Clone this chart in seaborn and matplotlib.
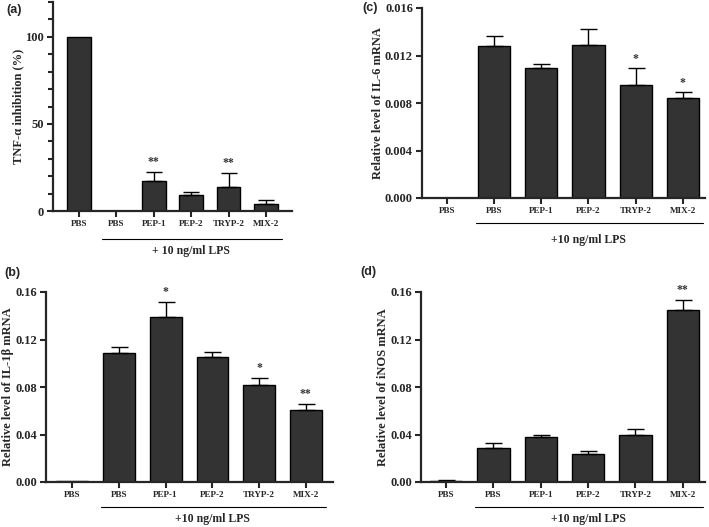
import numpy as np
import pandas as pd
import seaborn as sns
import matplotlib.pyplot as plt
import matplotlib.transforms as mtransforms

# Data
groups = ["PBS", "PBS+LPS", "PEP-1", "PEP-2", "TRYP-2", "MIX-2"]
tick_labels = ["PBS", "PBS", "PEP-1", "PEP-2", "TRYP-2", "MIX-2"]

tnf_mean = [100, 0, 17.5, 9.4, 13.8, 3.8]
tnf_err = [0, 0, 4.8, 1.7, 8.1, 2.3]
tnf_stars = ["", "", "**", "", "**", ""]

il1b_mean = [0.0008, 0.109, 0.139, 0.105, 0.082, 0.061]
il1b_err = [0, 0.005, 0.013, 0.0042, 0.0059, 0.0045]
il1b_stars = ["", "", "*", "", "*", "**"]

il6_mean = [0, 0.01277, 0.01091, 0.01285, 0.00953, 0.00846]
il6_err = [0, 0.00084, 0.00037, 0.00135, 0.00138, 0.00043]
il6_stars = ["", "", "", "", "*", "*"]

inos_mean = [0.0011, 0.0289, 0.0376, 0.0239, 0.0396, 0.1446]
inos_err = [0.0004, 0.0042, 0.0020, 0.0019, 0.0050, 0.0089]
inos_stars = ["", "", "", "", "", "**"]

sns.set_style("ticks")
plt.rcParams["font.family"] = ["Liberation Serif", "DejaVu Serif"]
plt.rcParams["font.weight"] = "bold"

W, H = 709, 527
fig = plt.figure(figsize=(W / 100, H / 100), dpi=100)


def make_ax(left, right, bottom, top):
    return fig.add_axes([left / W, 1 - bottom / H, (right - left) / W, (bottom - top) / H])


def panel(ax, mean, err, stars, ylim, yticks, ytick_fmt, ylabel, xlim, width,
          group_text, line_y, text_y, minor=None):
    df = pd.DataFrame({"group": groups, "value": mean})
    sns.barplot(data=df, x="group", y="value", order=groups, color="#333333",
                edgecolor="black", linewidth=1.0, width=width, saturation=1,
                errorbar=None, ax=ax)
    x = np.arange(len(groups))
    lower = np.zeros(len(groups))
    has = np.array(err) > 0
    ax.errorbar(x[has], np.array(mean)[has], yerr=[lower[has], np.array(err)[has]],
                fmt="none", ecolor="black", elinewidth=1.0, capsize=width * 9,
                capthick=1.0)
    span = ylim[1] - ylim[0]
    for xi, m, e, s in zip(x, mean, err, stars):
        if s:
            ax.text(xi, m + e + span * 0.02, s, ha="center", va="bottom",
                    fontsize=8.5, color="#333333")
    ax.set_ylim(*ylim)
    ax.set_xlim(*xlim)
    ax.set_yticks(yticks)
    ax.set_yticklabels([ytick_fmt.format(v) for v in yticks], fontsize=9,
                       fontweight="bold")
    if minor is not None:
        ax.set_yticks(minor, minor=True)
        ax.tick_params(axis="y", which="minor", length=3.5, width=1.5)
    ax.set_xticks(x)
    ax.set_xticklabels(tick_labels, fontsize=6.6, fontweight="bold")
    ax.set_xlabel("")
    ax.set_ylabel(ylabel, fontsize=9, fontweight="bold", labelpad=1)
    ax.tick_params(axis="both", which="major", length=4.5, width=1.5, pad=2)
    for side in ["left", "bottom"]:
        ax.spines[side].set_linewidth(1.6)
    sns.despine(ax=ax)
    trans = mtransforms.blended_transform_factory(ax.transData, ax.transAxes)
    ax.plot([0.62, 5.42], [line_y, line_y], color="black", lw=0.8,
            transform=trans, clip_on=False)
    ax.text(3.0, text_y, group_text, transform=trans, ha="center", va="center",
            fontsize=8.5, fontweight="bold")


ax_a = make_ax(53, 292, 211, 2)
panel(ax_a, tnf_mean, tnf_err, tnf_stars, (0, 120), [0, 50, 100], "{:g}",
      "TNF-\u03b1 inhibition (%)", (-0.7, 5.7), 0.64, "+ 10 ng/ml LPS",
      -0.135, -0.19, minor=np.arange(0, 121, 10))

ax_c = make_ax(422, 705, 198, 8)
panel(ax_c, il6_mean, il6_err, il6_stars, (0, 0.016),
      [0, 0.004, 0.008, 0.012, 0.016], "{:.3f}", "Relative level of IL-6 mRNA",
      (-0.53, 5.47), 0.68, "+10 ng/ml LPS", -0.13, -0.22)

ax_b = make_ax(46, 333, 482, 292)
panel(ax_b, il1b_mean, il1b_err, il1b_stars, (0, 0.16),
      [0, 0.04, 0.08, 0.12, 0.16], "{:.2f}", "Relative level of IL-1\u03b2 mRNA",
      (-0.56, 5.58), 0.68, "+10 ng/ml LPS", -0.13, -0.195)

ax_d = make_ax(421, 705, 482, 292)
panel(ax_d, inos_mean, inos_err, inos_stars, (0, 0.16),
      [0, 0.04, 0.08, 0.12, 0.16], "{:.2f}", "Relative level of iNOS mRNA",
      (-0.53, 5.47), 0.68, "+10 ng/ml LPS", -0.13, -0.195)

for label, (px, py) in zip(["(a)", "(c)", "(b)", "(d)"],
                           [(6, 10), (362, 8), (4, 273), (360, 272)]):
    fig.text(px / W, 1 - py / H, label, fontsize=9, fontweight="bold",
             family=["Liberation Sans", "DejaVu Sans"], va="center")

fig.savefig("out.png", dpi=100)
